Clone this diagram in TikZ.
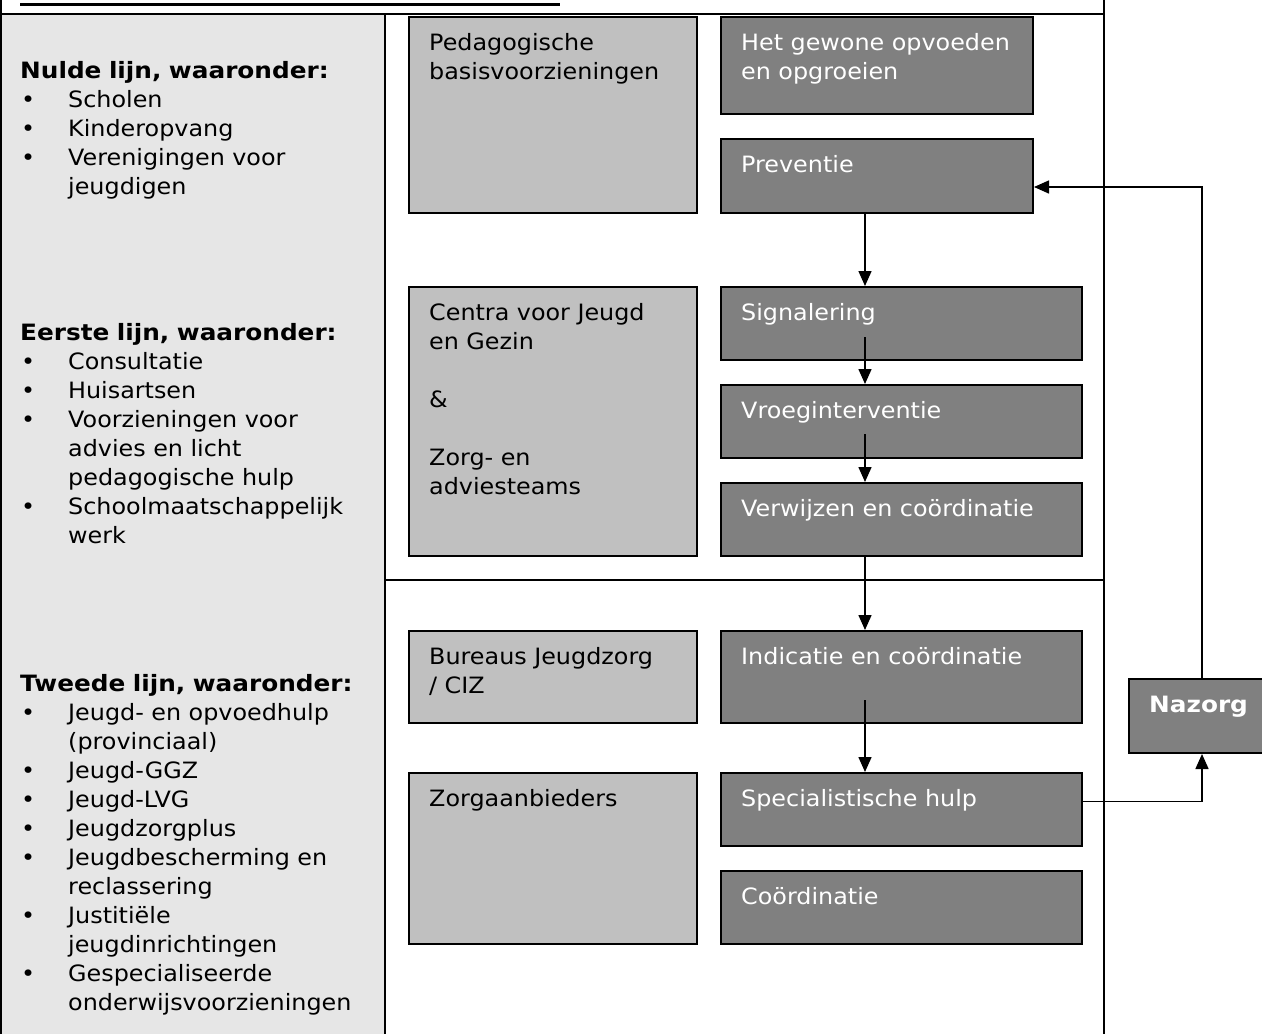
\documentclass[tikz,border=0pt]{standalone}
\usepackage{fontspec}
\setmainfont[FakeStretch=1.06,BoldFeatures={FakeStretch=1.1}]{DejaVu Sans}
\usetikzlibrary{arrows.meta}
\definecolor{colgray}{HTML}{E6E6E6}
\definecolor{lightbox}{HTML}{C0C0C0}
\definecolor{darkbox}{HTML}{808080}
\newcommand{\bul}{\makebox[48pt][l]{\hspace{1pt}•}}
\newcommand{\ind}{\hspace*{48pt}}
\begin{document}
\begin{tikzpicture}[x=1pt,y=-1pt,
  frameline/.style={line width=1.5pt, draw=black},
  lbox/.style={draw=black, line width=2pt, fill=lightbox, anchor=north west, inner sep=0pt},
  dbox/.style={draw=black, line width=2pt, fill=darkbox, anchor=north west, inner sep=0pt},
  txt/.style={anchor=base west, inner sep=0pt, align=left, text width=420pt,
              font=\fontsize{22.5}{29}\selectfont},
  wtxt/.style={txt, text=white},
  flow/.style={line width=1.5pt, -{Triangle[length=15pt,width=13pt]}},
  plain/.style={line width=1.5pt}
]
\useasboundingbox (0,0) rectangle (1262,1034);
% left column background
\fill[colgray] (1,14) rectangle (384,1040);
% frame
\draw[frameline] (1,-5) -- (1,1040);
\draw[frameline] (1104,-5) -- (1104,1040);
\draw[frameline] (0,14) -- (1104,14);
\draw[frameline] (385,14) -- (385,1040);
\draw[frameline] (385,580) -- (1104,580);
% title underline (title text cut off at the top)
\draw[line width=3pt] (20,4) -- (560,4);

% left column texts
\node[txt] (nul) at (20,78) {\textbf{Nulde lijn, waaronder:}\\
\bul Scholen\\
\bul Kinderopvang\\
\bul Verenigingen voor\\
\ind jeugdigen};
\node[txt] (eer) at (20,340) {\textbf{Eerste lijn, waaronder:}\\
\bul Consultatie\\
\bul Huisartsen\\
\bul Voorzieningen voor\\
\ind advies en licht\\
\ind pedagogische hulp\\
\bul Schoolmaatschappelijk\\
\ind werk};
\node[txt] (twe) at (20,691) {\textbf{Tweede lijn, waaronder:}\\
\bul Jeugd- en opvoedhulp\\
\ind (provinciaal)\\
\bul Jeugd-GGZ\\
\bul Jeugd-LVG\\
\bul Jeugdzorgplus\\
\bul Jeugdbescherming en\\
\ind reclassering\\
\bul Justitiële\\
\ind jeugdinrichtingen\\
\bul Gespecialiseerde\\
\ind onderwijsvoorzieningen};

% light boxes
\node[lbox, minimum width=288pt, minimum height=196pt] (ped) at (408,16) {};
\node[lbox, minimum width=288pt, minimum height=269pt] (cen) at (408,286) {};
\node[lbox, minimum width=288pt, minimum height=92pt] (bur) at (408,630) {};
\node[lbox, minimum width=288pt, minimum height=171pt] (zor) at (408,772) {};
% dark boxes
\node[dbox, minimum width=312pt, minimum height=97pt] (gew) at (720,16) {};
\node[dbox, minimum width=312pt, minimum height=74pt] (pre) at (720,138) {};
\node[dbox, minimum width=361pt, minimum height=73pt] (sig) at (720,286) {};
\node[dbox, minimum width=361pt, minimum height=73pt] (vro) at (720,384) {};
\node[dbox, minimum width=361pt, minimum height=73pt] (ver) at (720,482) {};
\node[dbox, minimum width=361pt, minimum height=92pt] (ind) at (720,630) {};
\node[dbox, minimum width=361pt, minimum height=73pt] (spe) at (720,772) {};
\node[dbox, minimum width=361pt, minimum height=73pt] (coo) at (720,870) {};
\node[dbox, minimum width=146pt, minimum height=74pt] (naz) at (1128,678) {};

% box texts
\node[txt] (tped) at ([xshift=21pt,yshift=-34pt]ped.north west) {Pedagogische\\basisvoorzieningen};
\node[txt] (tcen) at ([xshift=21pt,yshift=-34pt]cen.north west) {Centra voor Jeugd\\en Gezin\\[29pt]\&\\[29pt]Zorg- en\\adviesteams};
\node[txt] (tbur) at ([xshift=21pt,yshift=-34pt]bur.north west) {Bureaus Jeugdzorg\\/ CIZ};
\node[txt] (tzor) at ([xshift=21pt,yshift=-34pt]zor.north west) {Zorgaanbieders};
\node[wtxt] (tgew) at ([xshift=21pt,yshift=-34pt]gew.north west) {Het gewone opvoeden\\en opgroeien};
\node[wtxt] (tpre) at ([xshift=21pt,yshift=-34pt]pre.north west) {Preventie};
\node[wtxt] (tsig) at ([xshift=21pt,yshift=-34pt]sig.north west) {Signalering};
\node[wtxt] (tvro) at ([xshift=21pt,yshift=-34pt]vro.north west) {Vroeginterventie};
\node[wtxt] (tver) at ([xshift=21pt,yshift=-34pt]ver.north west) {Verwijzen en coördinatie};
\node[wtxt] (tind) at ([xshift=21pt,yshift=-34pt]ind.north west) {Indicatie en coördinatie};
\node[wtxt] (tspe) at ([xshift=21pt,yshift=-34pt]spe.north west) {Specialistische hulp};
\node[wtxt] (tcoo) at ([xshift=21pt,yshift=-34pt]coo.north west) {Coördinatie};
\node[wtxt, font=\fontsize{22.5}{29}\selectfont\bfseries] (tnaz) at ([xshift=21pt,yshift=-34pt]naz.north west) {Nazorg};

% connectors
\draw[flow] ([xshift=145pt]pre.south west) -- ([xshift=145pt]sig.north west);
\draw[flow] ([xshift=145pt,yshift=24pt]sig.south west) -- ([xshift=145pt]vro.north west);
\draw[flow] ([xshift=145pt,yshift=25pt]vro.south west) -- ([xshift=145pt]ver.north west);
\draw[flow] ([xshift=145pt]ver.south west) -- ([xshift=145pt]ind.north west);
\draw[flow] ([xshift=145pt,yshift=24pt]ind.south west) -- ([xshift=145pt]spe.north west);
\draw[flow] ([yshift=8pt]spe.east) -| (naz.south);
\draw[flow] (naz.north) |- ([yshift=-11pt]pre.east);
\end{tikzpicture}
\end{document}
